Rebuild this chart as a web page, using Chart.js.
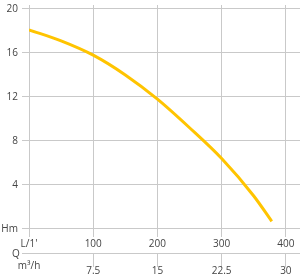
<!DOCTYPE html>
<html>
<head>
<meta charset="utf-8">
<script src="https://cdn.jsdelivr.net/npm/chart.js@4.4.0/dist/chart.umd.min.js"></script>
<style>
  html, body { margin: 0; padding: 0; background: #fff; }
  #wrap { width: 300px; height: 274px; }
</style>
</head>
<body>
<div id="wrap"><canvas id="pumpChart"></canvas></div>
<script>
// flow in L/min and head in m
const flowLmin = [0, 50, 100, 150, 200, 250, 300, 350, 378];
const headM = [18.1, 17.1, 15.8, 14.0, 11.8, 9.2, 6.4, 3.0, 0.7];

const flowTicks = [0, 100, 200, 300, 400];
const flowLabels = ["L/1'", '100', '200', '300', '400'];
const cubicLabels = ['', '7.5', '15', '22.5', '30'];
const headTicks = [0, 4, 8, 12, 16, 20];

const gridColor = '#c9c9c9';
const textColor = '#444';
const font = { family: 'Open Sans', size: 10 };

const unitLabels = {
    id: 'unitLabels',
    afterDraw(chart) {
        const ctx = chart.ctx;
        const x2 = chart.scales.x2;
        ctx.save();
        // extend the Q line to the left like the tick marks
        ctx.strokeStyle = gridColor;
        ctx.lineWidth = 1;
        ctx.beginPath();
        ctx.moveTo(22, x2.top + 0.5);
        ctx.lineTo(chart.chartArea.left, x2.top + 0.5);
        ctx.stroke();
        ctx.fillStyle = textColor;
        ctx.font = '10px "Open Sans"';
        ctx.textAlign = 'center';
        ctx.textBaseline = 'middle';
        ctx.fillText('Q', 16, x2.top + 1);
        ctx.fillText('m³/h', 29, x2.top + 13);
        ctx.restore();
    }
};

const ctx = document.getElementById('pumpChart').getContext('2d');
new Chart(ctx, {
    type: 'line',
    data: {
        datasets: [{
            data: flowLmin.map((q, i) => ({ x: q, y: headM[i] })),
            borderColor: '#ffc400',
            borderWidth: 3,
            pointRadius: 0,
            cubicInterpolationMode: 'monotone',
            fill: false
        }]
    },
    options: {
        responsive: true,
        maintainAspectRatio: false,
        animation: false,
        layout: { padding: { top: 5, right: 0, left: 0, bottom: 0 } },
        plugins: {
            legend: { display: false },
            tooltip: { enabled: false }
        },
        scales: {
            x: {
                type: 'linear',
                position: 'bottom',
                min: 0,
                max: 422,
                afterBuildTicks: s => { s.ticks = flowTicks.map(v => ({ value: v })); },
                afterFit: s => { s.height = 16; s.paddingLeft = 0; s.paddingRight = 0; },
                grid: { color: gridColor, drawTicks: false },
                border: { display: false },
                ticks: {
                    padding: 1,
                    color: textColor,
                    font: font,
                    maxRotation: 0,
                    callback: (v, i) => flowLabels[i]
                }
            },
            x2: {
                type: 'linear',
                position: 'bottom',
                min: 0,
                max: 422,
                afterBuildTicks: s => { s.ticks = flowTicks.map(v => ({ value: v })); },
                afterFit: s => { s.height = 21; s.paddingLeft = 0; s.paddingRight = 0; },
                grid: {
                    drawOnChartArea: false,
                    tickLength: 14,
                    color: c => c.index === 0 ? 'rgba(0,0,0,0)' : gridColor
                },
                border: { display: true, color: gridColor },
                ticks: {
                    padding: -2,
                    color: textColor,
                    font: font,
                    maxRotation: 0,
                    callback: (v, i) => cubicLabels[i]
                }
            },
            y: {
                type: 'linear',
                min: -0.73,
                max: 20.36,
                afterBuildTicks: s => { s.ticks = headTicks.map(v => ({ value: v })); },
                afterFit: s => { s.width = 29; s.paddingTop = 0; s.paddingBottom = 0; },
                grid: { color: gridColor, tickLength: 7 },
                border: { display: false },
                ticks: {
                    padding: 4,
                    color: textColor,
                    font: font,
                    callback: v => v === 0 ? 'Hm' : String(v)
                }
            }
        }
    },
    plugins: [unitLabels]
});
</script>
</body>
</html>
